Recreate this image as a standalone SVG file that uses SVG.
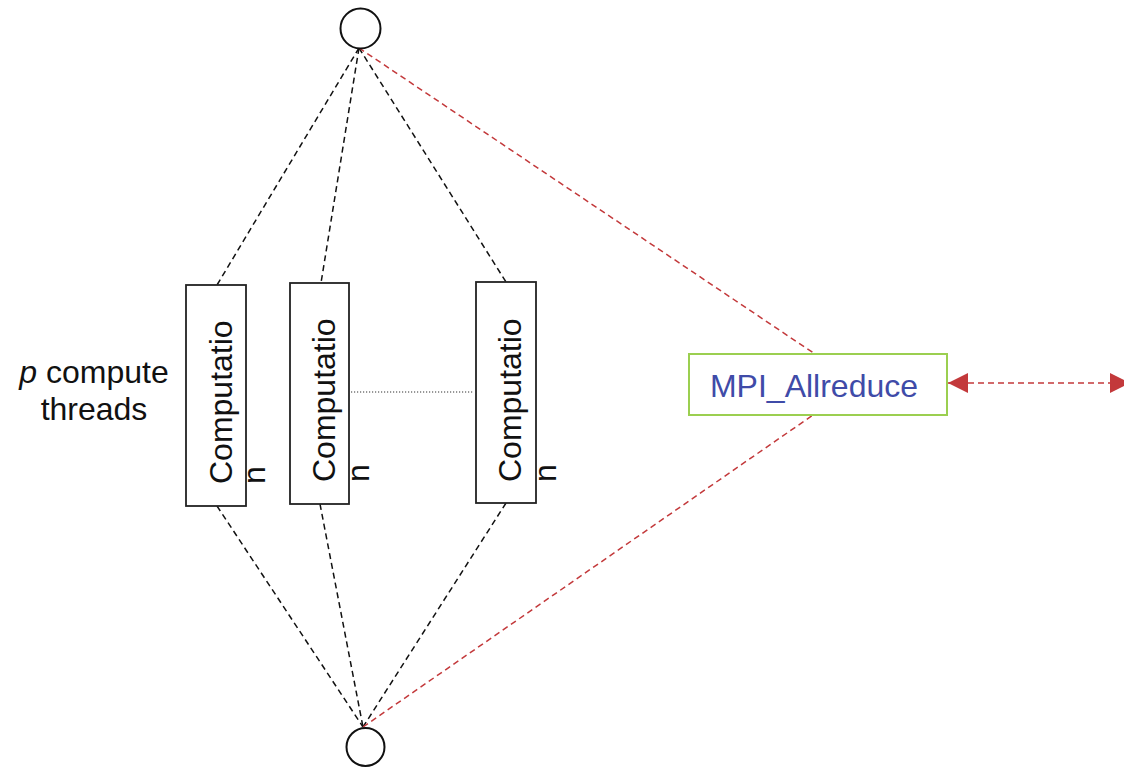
<svg xmlns="http://www.w3.org/2000/svg" width="1124" height="768" viewBox="0 0 1124 768">
<style>
.box{fill:#fff;stroke:#222;stroke-width:1.8}
.circ{fill:#fff;stroke:#111;stroke-width:2}
.bl{stroke:#111;stroke-width:1.5;stroke-dasharray:6 4;fill:none}
.rd{stroke:#C3393B;stroke-width:1.5;stroke-dasharray:6 4;fill:none}
.t{font-family:"Liberation Sans",Arial,sans-serif;font-size:32px;fill:#111}
</style>
<defs>
<marker id="ah" viewBox="0 0 10 10" refX="10" refY="5" markerWidth="20" markerHeight="20" markerUnits="userSpaceOnUse" orient="auto-start-reverse">
<path d="M0,0 L10,5 L0,10 z" fill="#C3393B"/>
</marker>
</defs>
<rect width="1124" height="768" fill="#fff"/>
<g id="connectors">
<line class="bl" x1="359" y1="48" x2="217" y2="285"/>
<line class="bl" x1="359" y1="48" x2="321" y2="283"/>
<line class="bl" x1="359" y1="48" x2="506" y2="282"/>
<line class="bl" x1="217" y1="506" x2="363" y2="727"/>
<line class="bl" x1="320" y1="504" x2="363" y2="727"/>
<line class="bl" x1="506" y1="503" x2="363" y2="727"/>
<line x1="351" y1="392" x2="474" y2="392" stroke="#333" stroke-width="1.2" stroke-dasharray="1.2 1.8"/>
<line class="rd" x1="359" y1="48" x2="815" y2="354"/>
<line class="rd" x1="363" y1="727" x2="813" y2="415"/>
<line class="rd" x1="948" y1="383" x2="1130" y2="383" marker-start="url(#ah)" marker-end="url(#ah)"/>
</g>
<g id="top"><circle class="circ" cx="360.5" cy="28.5" r="20"/></g>
<g id="bottom"><circle class="circ" cx="365.5" cy="747" r="19"/></g>
<g id="comp1">
<rect class="box" x="186" y="285" width="60" height="221"/>
<text class="t" transform="translate(232,484) rotate(-90)">Computatio</text>
<text class="t" transform="translate(265,484) rotate(-90)">n</text>
</g>
<g id="comp2">
<rect class="box" x="290" y="283" width="59" height="221"/>
<text class="t" transform="translate(335,482) rotate(-90)">Computatio</text>
<text class="t" transform="translate(369,482) rotate(-90)">n</text>
</g>
<g id="comp3">
<rect class="box" x="476" y="282" width="60" height="221"/>
<text class="t" transform="translate(521,482) rotate(-90)">Computatio</text>
<text class="t" transform="translate(556,482) rotate(-90)">n</text>
</g>
<g id="label">
<text class="t" x="94" y="383" text-anchor="middle"><tspan font-style="italic">p</tspan> compute</text>
<text class="t" x="94" y="420" text-anchor="middle">threads</text>
</g>
<g id="mpi">
<rect x="689" y="354" width="258" height="61" fill="#fff" stroke="#9BCF50" stroke-width="2"/>
<text class="t" x="814" y="397" text-anchor="middle" style="fill:#3F4BA8">MPI_Allreduce</text>
</g>
</svg>
